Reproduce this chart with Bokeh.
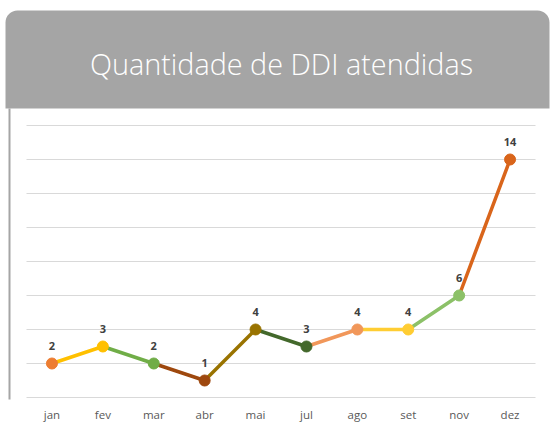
from bokeh.plotting import figure
from bokeh.models import BoxAnnotation, Label, FixedTicker, Range1d
from bokeh.core.properties import value
from bokeh.embed import file_html
from bokeh.resources import INLINE

# ---- data ----
months = ["jan", "fev", "mar", "abr", "mai", "jul", "ago", "set", "nov", "dez"]
counts = [2, 3, 2, 1, 4, 3, 4, 4, 6, 14]
point_colors = ["#ED7D31", "#FFC000", "#70AD47", "#9E480E", "#997300",
                "#43682B", "#F1975A", "#FFCD33", "#8CC168", "#D9651B"]
title_text = "Quantidade de DDI atendidas"
y_ticks = [0, 2, 4, 6, 8, 10, 12, 14, 16]

# ---- layout constants (pixels) ----
W, H = 551, 427
AXIS_H = 28                 # space below the frame for month labels
FRAME_H = H - AXIS_H
X_STEP = 50.9               # pixels per category
X_FIRST = 51.45             # pixel centre of first category
Y_STEP = 17.0               # pixels per unit
Y_ZERO = 397.0              # pixel row of value 0


def px(xp):
    return (xp - X_FIRST) / X_STEP


def py(yp):
    return (Y_ZERO - yp) / Y_STEP


xs = list(range(len(months)))

p = figure(width=W, height=H,
           x_range=Range1d(px(0), px(W)),
           y_range=Range1d(py(FRAME_H), py(0)),
           output_backend="svg", toolbar_location=None,
           y_axis_location=None,
           min_border_left=0, min_border_right=0,
           min_border_top=0, min_border_bottom=AXIS_H)
p.outline_line_color = None
p.background_fill_color = "white"
p.border_fill_color = "white"

p.xgrid.visible = False
p.ygrid.ticker = FixedTicker(ticks=y_ticks)
p.ygrid.grid_line_color = "#D9D9D9"
p.ygrid.grid_line_width = 1.2
p.ygrid.cross_bounds = (-0.5, len(months) - 0.5)

ax = p.xaxis[0]
ax.ticker = FixedTicker(ticks=xs)
ax.major_label_overrides = {i: m for i, m in enumerate(months)}
ax.axis_line_color = None
ax.major_tick_line_color = None
ax.minor_tick_line_color = None
ax.major_tick_out = 0
ax.major_tick_in = 0
ax.minor_tick_out = 0
ax.minor_tick_in = 0
ax.major_label_standoff = 7
ax.major_label_text_font = "Open Sans"
ax.major_label_text_font_size = "11.5px"
ax.major_label_text_color = "#595959"

# header box and left border
header = BoxAnnotation(left=px(5), right=px(549), top=py(10), bottom=py(108),
                       fill_color="#A5A5A5", fill_alpha=1.0, line_color=None,
                       border_radius=dict(top_left=12, top_right=12,
                                          bottom_right=0, bottom_left=0))
p.add_layout(header)
border = BoxAnnotation(left=px(8), right=px(10), top=py(108), bottom=py(H),
                       fill_color="#A5A5A5", fill_alpha=1.0, line_color=None)
p.add_layout(border)

title = Label(x=px(281), y=py(63), text=title_text,
              text_align="center", text_baseline="middle",
              text_color="white", text_font="'Open Sans Light', 'Open Sans'",
              text_font_size="28.8px")
p.add_layout(title)

# line segments (each coloured like its end point)
p.segment(x0=xs[:-1], y0=counts[:-1], x1=xs[1:], y1=counts[1:],
          line_color=point_colors[1:], line_width=3.5, line_cap="round")
p.scatter(x=xs, y=counts, size=11, fill_color=point_colors,
          line_color=point_colors)

p.text(x=xs, y=counts, text=[str(c) for c in counts], y_offset=-18,
       text_align="center", text_baseline="middle",
       text_font=value("Open Sans"), text_font_style="bold",
       text_font_size="11px", text_color="#404040")

open("out.html", "w").write(file_html(p, INLINE))
